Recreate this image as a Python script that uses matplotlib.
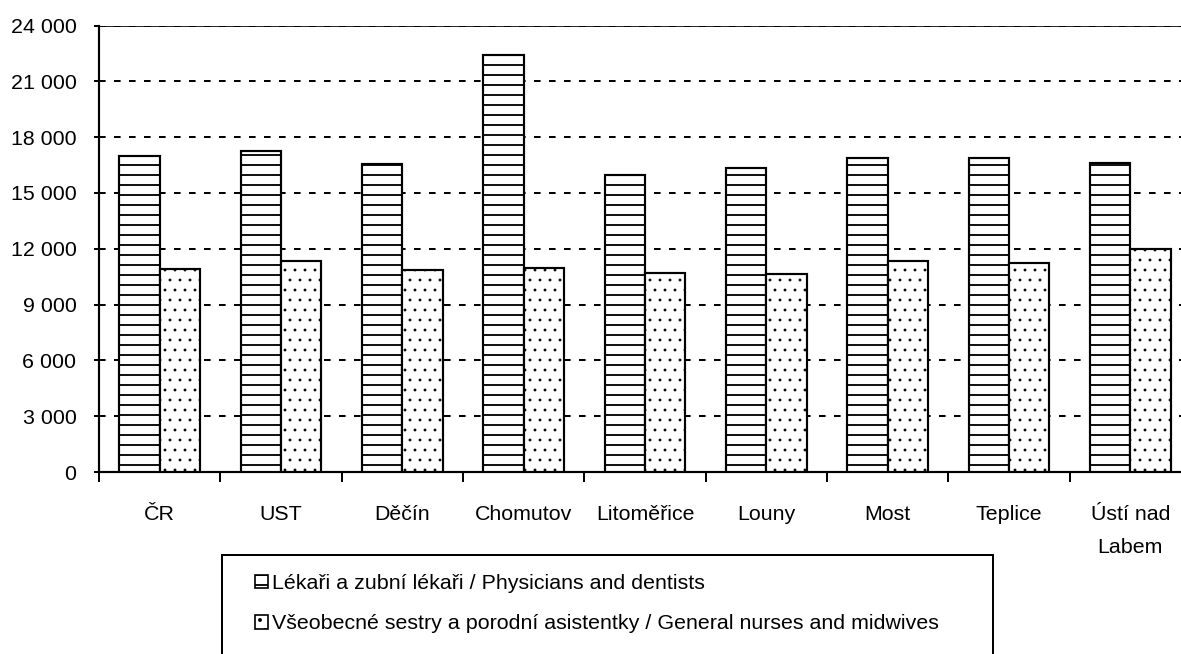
import numpy as np
import matplotlib
matplotlib.use('Agg')
import matplotlib.pyplot as plt
from matplotlib.patches import Patch, Rectangle

regions = ['ČR', 'UST', 'Děčín', 'Chomutov', 'Litoměřice', 'Louny', 'Most', 'Teplice', 'Ústí nad']
region_2nd_line = ['', '', '', '', '', '', '', '', 'Labem']
physicians = [17000, 17250, 16550, 22400, 15950, 16350, 16900, 16900, 16600]
nurses = [10900, 11330, 10850, 10990, 10680, 10620, 11350, 11240, 11970]
labels = ['Lékaři a zubní lékaři / Physicians and dentists',
          'Všeobecné sestry a porodní asistentky / General nurses and midwives']
yticks = np.arange(0, 24001, 3000)

plt.rcParams['font.family'] = ['Liberation Sans', 'DejaVu Sans']
plt.rcParams['font.size'] = 12.8
plt.rcParams['hatch.linewidth'] = 1.1

W, H, DPI = 1181, 654, 120
fig = plt.figure(figsize=(W / DPI, H / DPI), dpi=DPI)
# plot area runs past the right edge, like the cropped original
ax = fig.add_axes([99 / W, 1 - 472 / H, 1092 / W, (472 - 25.5) / H])

x = np.arange(len(regions))
bw = 1 / 3
ax.bar(x - bw / 2, physicians, bw, color='white', edgecolor='black', linewidth=1.3, hatch='--', zorder=3)
dots = ax.bar(x + bw / 2, nurses, bw, color='white', edgecolor='black', linewidth=1.3, hatch='..', zorder=3)
for p in dots:
    if hasattr(p, 'set_hatch_linewidth'):
        p.set_hatch_linewidth(0.5)

ax.set_xlim(-0.5, len(regions) - 0.5)
ax.set_ylim(0, 24000)
ax.set_yticks(yticks)
ax.set_yticklabels([f'{v:,}'.replace(',', ' ') for v in yticks])
for v in yticks[1:]:
    ax.axhline(v, color='black', lw=1.2, dashes=(3.3, 4.2), zorder=1)

ax.set_xticks(x)
ax.set_xticklabels(regions)
ax.set_xticks(np.arange(len(regions) + 1) - 0.5, minor=True)
ax.tick_params(axis='x', which='major', length=0, pad=28.5)
ax.tick_params(axis='x', which='minor', length=6, width=1.2, direction='out')
ax.tick_params(axis='y', length=3, width=1.2, pad=10.5)
for t in ax.get_xticklabels():
    t.set_verticalalignment('baseline')
for i, s in enumerate(region_2nd_line):
    if s:
        ax.annotate(s, (x[i], 0), xycoords=('data', 'axes fraction'), xytext=(0, -48.6),
                    textcoords='offset points', ha='center', va='baseline')

for s in ['left', 'bottom']:
    ax.spines[s].set_linewidth(1.3)
ax.spines['right'].set_visible(False)
ax.spines['top'].set_linewidth(0.5)

handles = [Patch(facecolor='white', edgecolor='black', hatch='--', lw=1.0),
           Patch(facecolor='white', edgecolor='black', hatch='..', lw=1.0)]
if hasattr(handles[1], 'set_hatch_linewidth'):
    handles[1].set_hatch_linewidth(0.5)
fig.legend(handles, labels, loc='upper left', bbox_to_anchor=(255 / W, 1 - 574 / H),
           frameon=False, borderpad=0, borderaxespad=0, handlelength=0.62,
           handleheight=0.62, handletextpad=0.2, labelspacing=1.0, fontsize=12.8)
fig.add_artist(Rectangle((222 / W, -0.05), (993 - 222) / W, 1 - 555 / H + 0.05,
                         transform=fig.transFigure, fill=False, edgecolor='black',
                         lw=1.2, clip_on=False))

fig.savefig('out.png', dpi=DPI)
